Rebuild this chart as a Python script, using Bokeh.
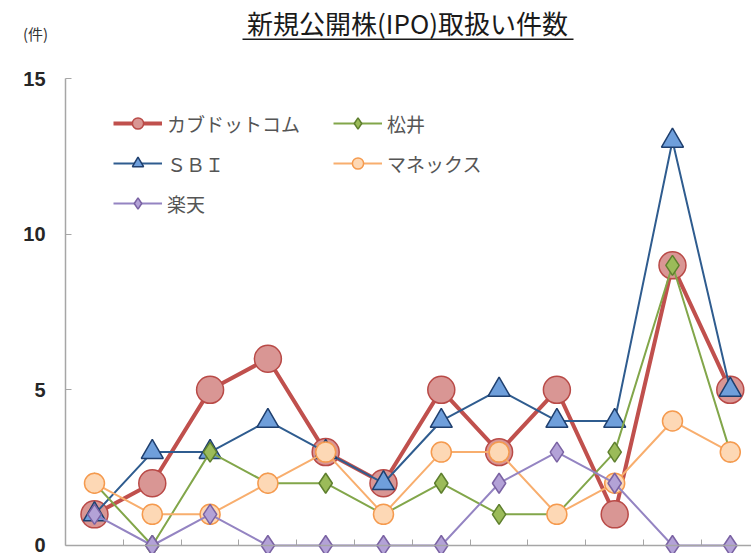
from bokeh.plotting import figure
from bokeh.models import (LinearAxis, FixedTicker, Label, BoxAnnotation, Legend,
                          LegendItem, Range1d)
from bokeh.embed import file_html
from bokeh.resources import INLINE

# ---- data -------------------------------------------------------------
periods = list(range(12))                      # category index (labels not shown)
kabu    = [1, 2, 5, 6, 3, 2, 5, 3, 5, 1, 9, 5]  # カブドットコム
sbi     = [1, 3, 3, 4, 3, 2, 4, 5, 4, 4, 13, 5] # ＳＢＩ
matsui  = [2, 0, 3, 2, 2, 1, 2, 1, 1, 3, 9, 3]  # 松井
monex   = [2, 1, 1, 2, 3, 1, 3, 3, 1, 2, 4, 3]  # マネックス
rakuten = [1, 0, 1, 0, 0, 0, 0, 2, 3, 2, 0, 0]  # 楽天
y_ticks = [0, 5, 10, 15]
title_text = "新規公開株(IPO)取扱い件数"
unit_text = "(件)"

W, H = 751, 553
JP = "Noto Sans CJK JP"

p = figure(width=W, height=H, x_range=Range1d(-1.626, 11.367),
           y_range=Range1d(-0.257, 17.507), x_axis_location=None,
           y_axis_location=None, toolbar_location=None, output_backend="svg",
           min_border=0, outline_line_color=None, background_fill_color="white")
p.grid.visible = False

# y axis (left, at category boundary)
yax = LinearAxis(fixed_location=-0.5, bounds=(0, 15),
                 ticker=FixedTicker(ticks=y_ticks),
                 major_tick_in=6, major_tick_out=0, minor_tick_in=0, minor_tick_out=0,
                 axis_line_color="#A6A6A6", axis_line_width=1.5,
                 major_tick_line_color="#A6A6A6",
                 major_label_text_font="Liberation Sans",
                 major_label_text_font_style="bold",
                 major_label_text_font_size="20px",
                 major_label_text_color="#262626",
                 major_label_standoff=20)
p.add_layout(yax, "left")

# x axis (bottom, at y=0), ticks at category boundaries
xax = LinearAxis(fixed_location=0, bounds=(-0.5, 11.4),
                 ticker=FixedTicker(ticks=[i + 0.5 for i in periods]),
                 major_tick_in=6, major_tick_out=0, minor_tick_in=0, minor_tick_out=0,
                 axis_line_color="#A6A6A6", axis_line_width=1.5,
                 major_tick_line_color="#A6A6A6",
                 major_label_text_alpha=0, major_label_text_font_size="1px")
p.add_layout(xax, "below")

series = [
    ("カブドットコム", kabu, "#C0504D", 4, "circle", 27, "#D99694", "#B94A47"),
    ("ＳＢＩ", sbi, "#2F5C8F", 2, "triangle", 22, "#6F9FDB", "#1F3F6E"),
    ("松井", matsui, "#82A64A", 2, "diamond", 20, "#9BBB59", "#5E7F2E"),
    ("マネックス", monex, "#F8AE6E", 2, "circle", 20, "#FDD8B5", "#F59A4E"),
    ("楽天", rakuten, "#9484C2", 2, "diamond", 20, "#B3A2D7", "#7A62A3"),
]
items = {}
for name, ys, lc, lw, mk, sz, fc, oc in series:
    lr = p.line(periods, ys, line_color=lc, line_width=lw)
    sr = p.scatter(periods, ys, marker=mk, size=sz, fill_color=fc,
                   line_color=oc, line_width=1.5)
    items[name] = LegendItem(label=name, renderers=[lr, sr])

def make_legend(its, loc):
    return Legend(items=its, location=loc, orientation="vertical",
                  padding=0, margin=0, spacing=12, glyph_width=49,
                  glyph_height=28, label_height=28, label_standoff=5,
                  border_line_alpha=0, background_fill_alpha=0,
                  label_text_font=JP, label_text_font_size="19px",
                  label_text_color="#555555")

p.add_layout(make_legend([items["カブドットコム"], items["ＳＢＩ"], items["楽天"]], (113, 336)), "center")
p.add_layout(make_legend([items["松井"], items["マネックス"]], (333, 376)), "center")

# title and unit
p.add_layout(Label(x=407, y=H - 22, x_units="screen", y_units="screen",
                   text=title_text, text_align="center", text_baseline="middle",
                   text_font=JP, text_font_size="26px", text_color="#1A1A1A"))
p.add_layout(BoxAnnotation(left=242, right=573, bottom=H - 39.5, top=H - 38,
                           left_units="screen", right_units="screen",
                           top_units="screen", bottom_units="screen",
                           fill_color="#1A1A1A", fill_alpha=1, line_alpha=0))
p.add_layout(Label(x=35, y=H - 33, x_units="screen", y_units="screen",
                   text=unit_text, text_align="center", text_baseline="middle",
                   text_font=JP, text_font_size="15px", text_color="#333333"))

open("out.html", "w").write(file_html(p, INLINE))
